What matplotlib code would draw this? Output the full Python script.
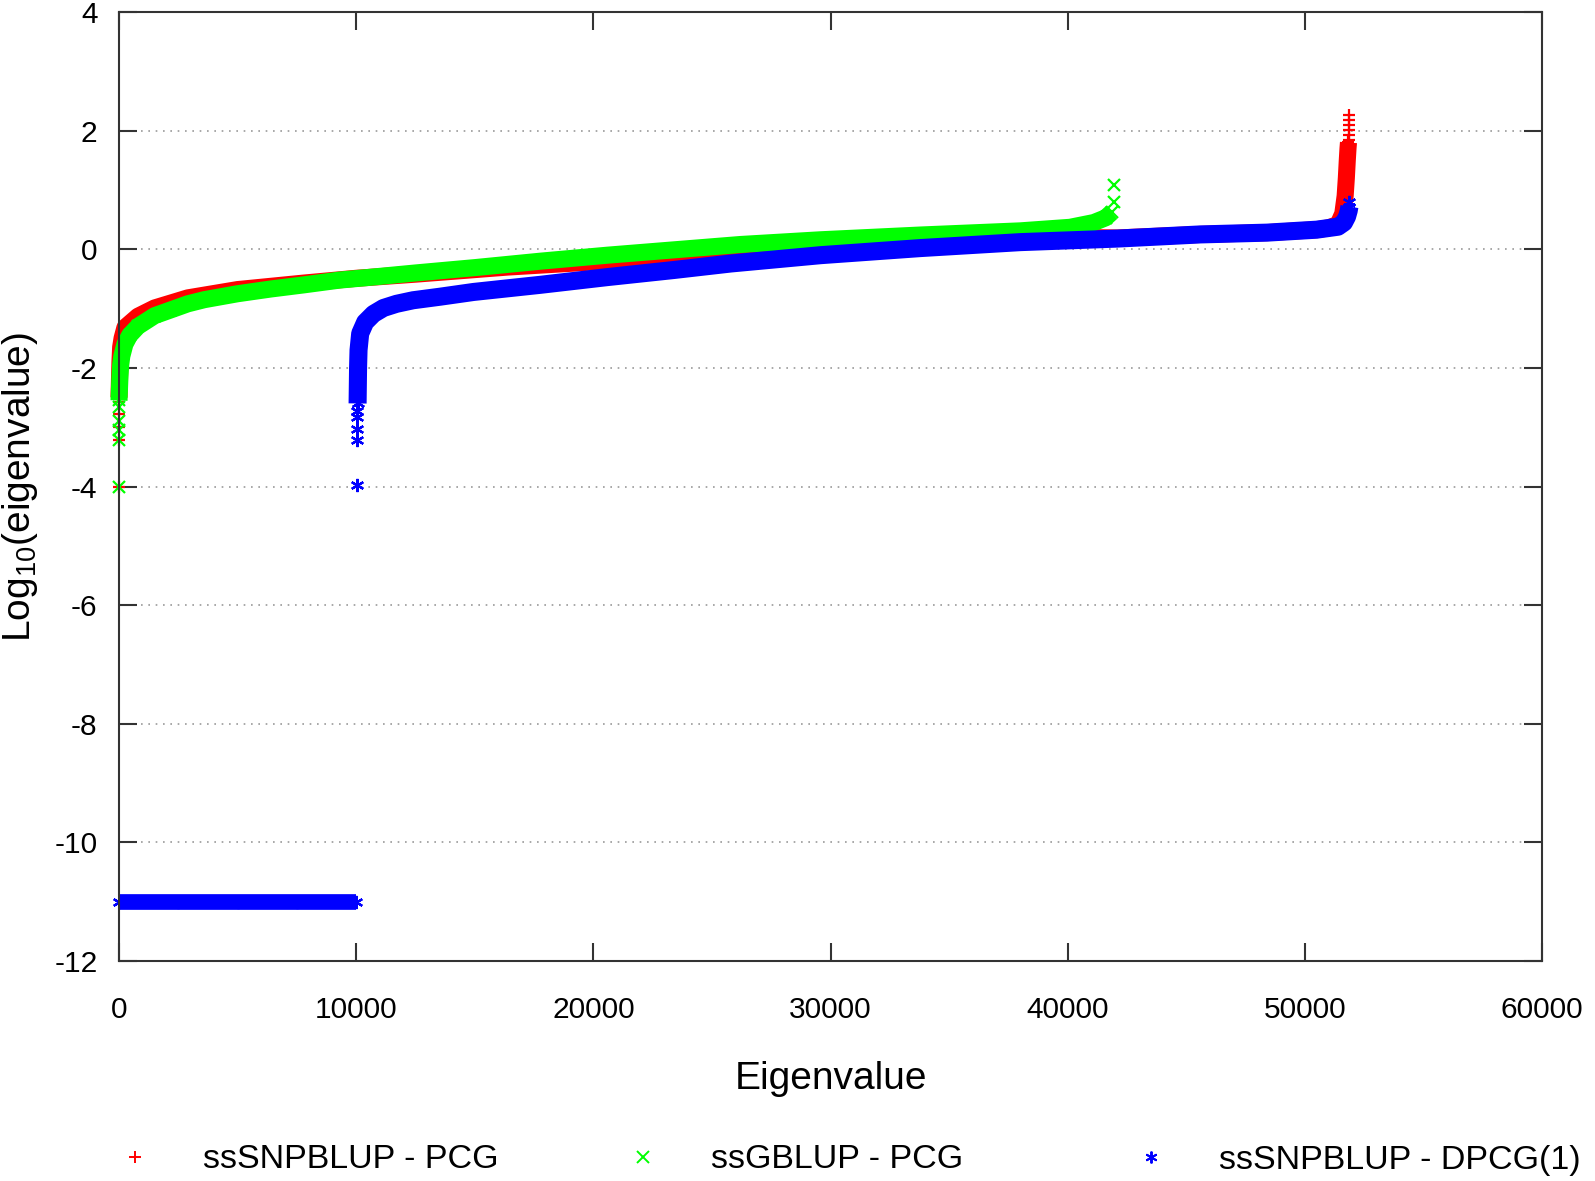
import matplotlib
matplotlib.use("Agg")
import matplotlib.pyplot as plt
from matplotlib.lines import Line2D

plt.rcParams['font.family'] = ['Liberation Sans', 'DejaVu Sans']
plt.rcParams['mathtext.fontset'] = 'custom'
plt.rcParams['mathtext.rm'] = 'Liberation Sans'
plt.rcParams['mathtext.it'] = 'Liberation Sans:italic'
plt.rcParams['axes.unicode_minus'] = False

# ---------------- data ----------------
series_labels = ["ssSNPBLUP - PCG", "ssGBLUP - PCG", "ssSNPBLUP - DPCG(1)"]

# ssSNPBLUP - PCG (red)
red_x = [0, 20, 40, 70, 130, 250, 800, 1500, 2900, 5000, 7800, 10000, 12500,
         16400, 20600, 23400, 26200, 29600, 33800, 38000, 42100, 45600, 48400,
         50500, 51000, 51400, 51600, 51700, 51750, 51790, 51820, 51840]
red_y = [-2.5, -2.2, -1.9, -1.65, -1.5, -1.32, -1.13, -0.99, -0.82, -0.68, -0.57,
         -0.49, -0.42, -0.30, -0.20, -0.09, -0.04, 0.05, 0.13, 0.21, 0.19, 0.25,
         0.28, 0.33, 0.36, 0.42, 0.6, 0.9, 1.2, 1.5, 1.7, 1.8]
red_iso_x = [0, 0, 0, 0, 0, 51850, 51850, 51850, 51850, 51850, 51850]
red_iso_y = [-4.0, -3.22, -3.0, -2.77, -2.58, 1.84, 1.92, 2.01, 2.09, 2.18, 2.26]

# ssGBLUP - PCG (green)
green_x = [0, 20, 40, 70, 120, 250, 450, 800, 1500, 2200, 2900, 3600, 5000, 6400,
           7800, 9300, 10400, 12500, 15000, 17800, 20600, 23400, 26200, 29600,
           33800, 38000, 40100, 41100, 41600, 41850]
green_y = [-2.55, -2.35, -2.15, -1.95, -1.8, -1.6, -1.45, -1.30, -1.12, -1.02,
           -0.92, -0.85, -0.75, -0.67, -0.60, -0.52, -0.48, -0.40, -0.31, -0.20,
           -0.10, -0.01, 0.08, 0.16, 0.24, 0.31, 0.37, 0.45, 0.53, 0.62]
green_iso_x = [0, 0, 0, 0, 0, 41950, 41950]
green_iso_y = [-4.0, -3.22, -3.05, -2.89, -2.66, 0.80, 1.08]

# ssSNPBLUP - DPCG(1) (blue)
blue_null_x = [0, 2500, 5000, 7500, 10000]
blue_null_y = [-11.0, -11.0, -11.0, -11.0, -11.0]
blue_x = [10060, 10070, 10080, 10100, 10170, 10380, 10730, 11150, 11700, 12400,
          13540, 14950, 17760, 20580, 23390, 25800, 29580, 33800, 38000, 42100,
          45600, 48400, 50500, 51400, 51650, 51780, 51850, 51880]
blue_y = [-2.6, -2.3, -2.0, -1.7, -1.42, -1.23, -1.09, -0.99, -0.92, -0.86,
          -0.80, -0.72, -0.60, -0.47, -0.35, -0.24, -0.10, 0.02, 0.12, 0.18,
          0.25, 0.28, 0.33, 0.38, 0.45, 0.55, 0.65, 0.72]
blue_iso_x = [10050, 10050, 10050, 10050, 10050, 51880]
blue_iso_y = [-3.98, -3.22, -3.03, -2.83, -2.72, 0.80]

x_ticks = [0, 10000, 20000, 30000, 40000, 50000, 60000]
y_ticks = [-12, -10, -8, -6, -4, -2, 0, 2, 4]

# ---------------- figure ----------------
W, H = 1595, 1181
fig = plt.figure(figsize=(W / 100, H / 100), dpi=100)
ax = fig.add_axes([119 / W, 1 - 961 / H, (1542 - 119) / W, (961 - 12) / H])

RED, GREEN, BLUE = '#ff0000', '#00ff00', '#0000ff'
band_lw = 12.3
msize = 8.5
mew = 1.6
star = (6, 2, 0)

def band(xs, ys, col, lw, mk, z, ms=msize):
    ax.plot(xs, ys, color=col, lw=lw, solid_capstyle='butt',
            solid_joinstyle='round', zorder=z, clip_on=False)
    ax.plot(xs, ys, ls='none', marker=mk, color=col, ms=ms, mew=mew,
            zorder=z, clip_on=False)

def pts(xs, ys, col, mk, z, ms=msize):
    ax.plot(xs, ys, ls='none', marker=mk, color=col, ms=ms, mew=mew,
            zorder=z, clip_on=False)

# red
band(red_x, red_y, RED, band_lw, '+', 3)
pts(red_iso_x, red_iso_y, RED, '+', 3.5)
# green
band(green_x, green_y, GREEN, band_lw, 'x', 4)
pts(green_iso_x, green_iso_y, GREEN, 'x', 4)
# blue
band(blue_null_x, blue_null_y, BLUE, 11.3, star, 5, ms=msize + 1)
band(blue_x, blue_y, BLUE, band_lw + 0.7, star, 5, ms=msize + 1)
pts(blue_iso_x, blue_iso_y, BLUE, star, 5, ms=msize + 1)

ax.set_xlim(0, 60000)
ax.set_ylim(-12, 4)
ax.set_xticks(x_ticks)
ax.set_xticklabels([str(t) for t in x_ticks])
ax.set_yticks(y_ticks)
ax.set_yticklabels([str(t) for t in y_ticks])

ax.tick_params(direction='in', length=13, width=1.5, color='#333333',
               top=True, right=True, labelsize=21.5)
ax.tick_params(axis='x', pad=25)
ax.tick_params(axis='y', pad=15.5)
for sp in ax.spines.values():
    sp.set_linewidth(1.5)
    sp.set_color('#333333')
    sp.set_zorder(6)

ax.yaxis.grid(True, color='#9a9a9a', linestyle=(0, (1, 3.4)), linewidth=1.2, zorder=1)
ax.set_axisbelow(True)

ax.set_xlabel('Eigenvalue', fontsize=28)
ax.xaxis.set_label_coords(0.5, -0.105)
ax.set_ylabel('Log$_{10}$(eigenvalue)', fontsize=28)
ax.yaxis.set_label_coords(-0.0555, 0.5)

# legend: three single-entry legends placed in a row under the plot
leg_markers = ['+', 'x', star]
leg_colors = [RED, GREEN, BLUE]
leg_xpx = [135, 643, 1151]
fs = 24.5
em = fs * 100 / 72
for lab, mk, col, xp in zip(series_labels, leg_markers, leg_colors, leg_xpx):
    h = Line2D([], [], ls='none', marker=mk, color=col, ms=msize, mew=1.4)
    fig.legend(handles=[h], labels=[lab], loc='center left',
               bbox_to_anchor=((xp - em / 2) / W, 1 - 1160 / H),
               frameon=False, fontsize=fs, handlelength=1.0,
               handletextpad=(68 - em / 2) / em, borderpad=0, borderaxespad=0,
               numpoints=1)

fig.savefig('out.png', dpi=100)
